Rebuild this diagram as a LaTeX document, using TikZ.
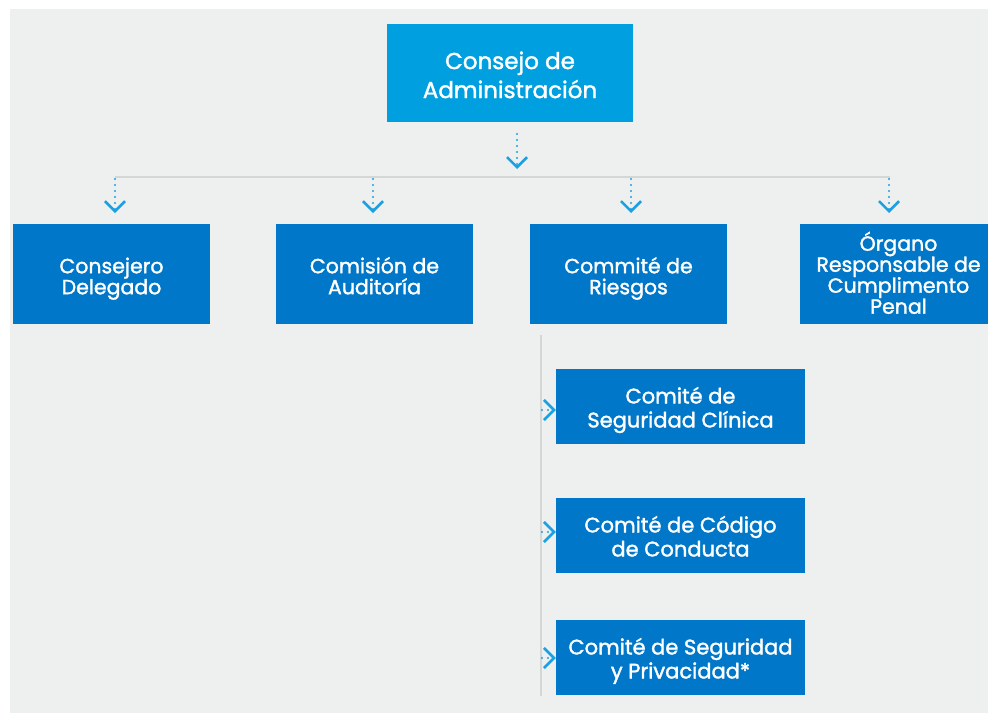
\documentclass[tikz,border=0pt]{standalone}
\usepackage{fontspec}
\setmainfont{Poppins}
\newfontfamily\medfont{Poppins}[FakeBold=1.6]
\usetikzlibrary{arrows.meta}
\definecolor{panel}{HTML}{EEF0EF}
\definecolor{topblue}{HTML}{009FDF}
\definecolor{boxblue}{HTML}{0077C8}
\definecolor{arrowc}{HTML}{1BA1E2}
\definecolor{linegrey}{HTML}{D5D6D6}
\newcommand{\vt}{\vphantom{Á}}
\newcommand{\vb}{\vphantom{g}}
\tikzset{
  lbl/.style={text=white, align=center, inner sep=0pt},
  topbox/.style={fill=topblue, minimum width=246pt, minimum height=98pt, inner sep=0pt},
  rowbox/.style={fill=boxblue, minimum width=197pt, minimum height=100pt, inner sep=0pt},
  subbox/.style={fill=boxblue, minimum width=249pt, minimum height=75pt, inner sep=0pt},
  toptext/.style={lbl, font=\medfont\fontsize{23}{29}\selectfont},
  rowtext/.style={lbl, font=\medfont\fontsize{20.5}{21}\selectfont},
  subtext/.style={lbl, font=\medfont\fontsize{21}{24}\selectfont},
  dotarrow/.style={draw=arrowc, line width=2.4pt, dash pattern=on 0pt off 6pt, line cap=round, -{Straight Barb[width=20pt,length=10pt,line width=2.6pt]}},
  greyline/.style={draw=linegrey, line width=2pt},
}
\begin{document}
\begin{tikzpicture}[x=1pt,y=-1pt]
\useasboundingbox (0,0) rectangle (988,713);
\clip (0,0) rectangle (988,713);
\fill[white] (0,0) rectangle (988,713);
\fill[panel] (10,9) rectangle (1000,713);

\node[topbox] (top) at (510,73) {};
\node[toptext] at ([yshift=-3pt]top.center) {\vt Consejo de\\Administración\vb};

\node[rowbox] (b1) at (111.5,274) {};
\node[rowbox] (b2) at (374.5,274) {};
\node[rowbox] (b3) at (628.5,274) {};
\node[rowbox] (b4) at (898.5,274) {};
\node[rowtext] at ([yshift=-3pt]b1.center) {\vt Consejero\\Delegado\vb};
\node[rowtext] at ([yshift=-3pt]b2.center) {\vt Comisión de\\Auditoría\vb};
\node[rowtext] at ([yshift=-3pt]b3.center) {\vt Commité de\\Riesgos\vb};
\node[rowtext] at ([yshift=-1.5pt]b4.center) {\vt Órgano\\Responsable de\\Cumplimento\\Penal\vb};

\node[subbox] (s1) at (680.5,406.5) {};
\node[subbox] (s2) at (680.5,535.5) {};
\node[subbox] (s3) at (680.5,657.5) {};
\node[subtext] at ([yshift=-2pt]s1.center) {\vt Comité de\\Seguridad Clínica\vb};
\node[subtext] at ([yshift=-2pt]s2.center) {\vt Comité de Código\\de Conducta\vb};
\node[subtext] at ([yshift=-2pt]s3.center) {\vt Comité de Seguridad\\y Privacidad*\vb};

% horizontal bus
\coordinate (hl) at (115,177);
\coordinate (hr) at (890,177);
\draw[greyline] (hl) -- (hr);

% top arrow
\coordinate (t0) at (517,134);
\coordinate (t1) at (517,169);
\draw[dotarrow] (t0) -- (t1);

% row arrows
\foreach \x/\n in {115/1,373/2,631/3,889/4}{
  \coordinate (a\n) at (\x,179);
  \coordinate (e\n) at (\x,213);
  \draw[dotarrow] (a\n) -- (e\n);
}

% vertical line
\coordinate (v0) at (541,335);
\coordinate (v1) at (541,696);
\draw[greyline] (v0) -- (v1);

% side arrows
\foreach \y/\n in {410/1,532/2,658/3}{
  \coordinate (p\n) at (542,\y);
  \draw[dotarrow] (p\n) -- (s\n.west |- p\n);
}
\end{tikzpicture}
\end{document}
